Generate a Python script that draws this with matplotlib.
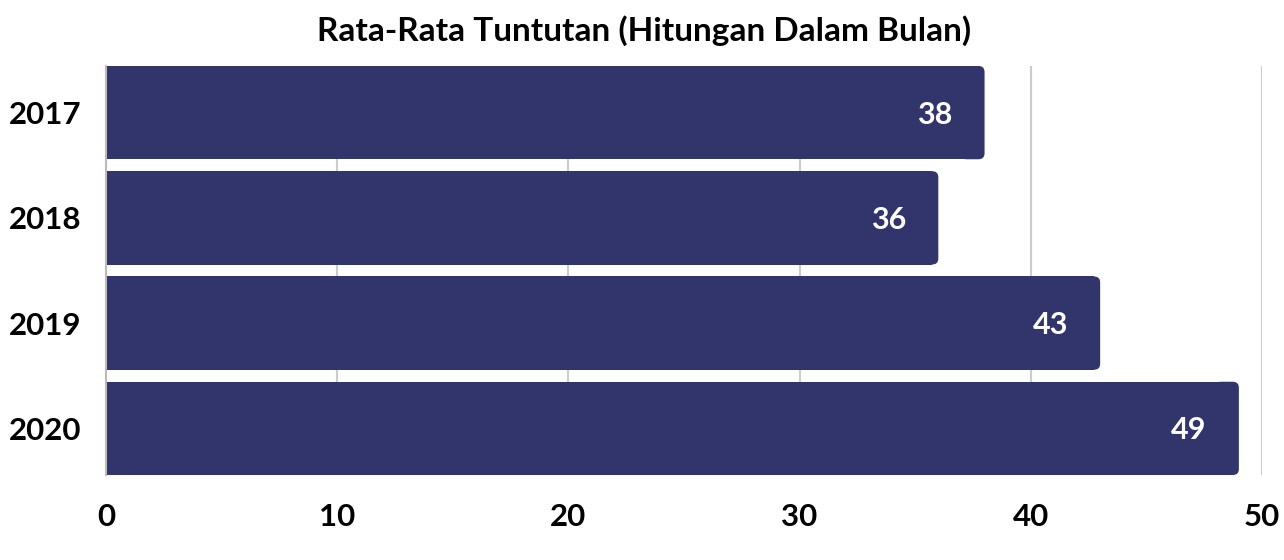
import matplotlib.pyplot as plt
from matplotlib.patches import FancyBboxPatch

years = ['2017', '2018', '2019', '2020']
values = [38, 36, 43, 49]
bar_col = '#32356b'
fnt = 'Lato'

fig = plt.figure(figsize=(12.84, 5.6), dpi=100)
ax = fig.add_axes([106/1284, 1-475/560, (1262-106)/1284, (475-66)/560])

h = 0.886
r = 0.26          # corner radius in x units
asp = 0.057 / r   # y/x ratio for the corner
for i, v in enumerate(values):
    ax.barh(i, v - r, height=h, color=bar_col, zorder=2)
    ax.add_patch(FancyBboxPatch((v - 4*r, i - h/2), 4*r, h,
                                boxstyle='round,pad=0,rounding_size=%f' % r,
                                mutation_aspect=asp, fc=bar_col, ec='none', zorder=2))
    ax.text(v - 1.4, i + 0.02, str(v), color='white', fontsize=22, fontweight='bold',
            family=fnt, ha='right', va='center', zorder=3)

ax.set_xlim(0, 50)
ax.set_ylim(3 + h/2, -h/2)
ax.set_yticks(range(len(years)))
ax.set_yticklabels(years)
ax.set_xticks(range(0, 51, 10))
for lab in ax.get_xticklabels() + ax.get_yticklabels():
    lab.set_fontfamily(fnt)
    lab.set_fontweight('bold')
    lab.set_fontsize(22.5)
ax.tick_params(axis='both', length=0)
ax.tick_params(axis='x', pad=20)
ax.tick_params(axis='y', pad=17.5)
ax.grid(axis='x', color='#cccccc', linewidth=1.5, zorder=0)
for s in ['top', 'right', 'bottom']:
    ax.spines[s].set_visible(False)
ax.spines['left'].set_color('#bbbbbb')
ax.spines['left'].set_linewidth(1.5)

fig.text(644/1284, 1-31/560, 'Rata-Rata Tuntutan (Hitungan Dalam Bulan)', ha='center', va='center',
         fontsize=24, fontweight='bold', family=fnt)

plt.savefig('out.png', dpi=100)
